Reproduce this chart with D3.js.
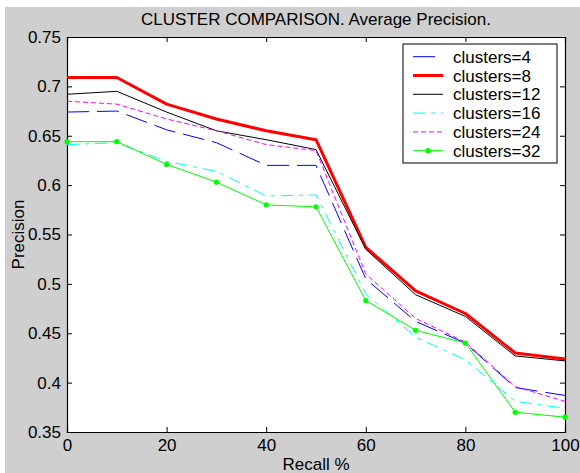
<!DOCTYPE html>
<html>
<head>
<meta charset="utf-8">
<script src="https://cdn.jsdelivr.net/npm/d3@7"></script>
<style>
  html, body { margin: 0; padding: 0; background: #ffffff; }
  svg { display: block; }
  text { font-family: "Liberation Sans", Arial, sans-serif; fill: #000; }
</style>
</head>
<body>
<svg id="chart" width="580" height="473"></svg>
<script>
// Recall levels (%)
const recall = [0, 10, 20, 30, 40, 50, 60, 70, 80, 90, 100];

// Average precision per number of clusters
const clusters4  = [0.674, 0.675, 0.656, 0.643, 0.620, 0.620, 0.505, 0.462, 0.440, 0.395, 0.387];
const clusters8  = [0.709, 0.709, 0.682, 0.667, 0.655, 0.646, 0.537, 0.493, 0.470, 0.430, 0.424];
const clusters12 = [0.692, 0.695, 0.674, 0.655, 0.646, 0.636, 0.535, 0.489, 0.467, 0.427, 0.422];
const clusters16 = [0.641, 0.643, 0.624, 0.614, 0.589, 0.590, 0.490, 0.446, 0.423, 0.381, 0.374];
const clusters24 = [0.685, 0.682, 0.667, 0.655, 0.641, 0.635, 0.510, 0.465, 0.441, 0.396, 0.381];
const clusters32 = [0.644, 0.644, 0.621, 0.603, 0.580, 0.578, 0.483, 0.453, 0.440, 0.370, 0.365];

const seriesNames = ["clusters=4", "clusters=8", "clusters=12", "clusters=16", "clusters=24", "clusters=32"];
const seriesValues = [clusters4, clusters8, clusters12, clusters16, clusters24, clusters32];

const xTicks = [0, 20, 40, 60, 80, 100];
const yTicks = [0.35, 0.4, 0.45, 0.5, 0.55, 0.6, 0.65, 0.7, 0.75];

// Line appearance for each series
const styles = [
  { color: "#0000ff", width: 1, dash: "22,8",      marker: false },
  { color: "#ff0000", width: 3, dash: null,        marker: false },
  { color: "#000000", width: 1, dash: null,        marker: false },
  { color: "#00ffff", width: 1, dash: "12,6,4,6",  marker: false },
  { color: "#ff00ff", width: 1, dash: "5,3",       marker: false },
  { color: "#00ff00", width: 1, dash: null,        marker: true  }
];

const svg = d3.select("#chart");

// Figure background
svg.append("rect").attr("x", 5).attr("y", 7).attr("width", 575).attr("height", 466).attr("fill", "#cfcfcf");

const plot = { left: 67, top: 37, right: 565, bottom: 432 };

const x = d3.scaleLinear().domain([0, 100]).range([plot.left, plot.right]);
const y = d3.scaleLinear().domain([0.35, 0.75]).range([plot.bottom, plot.top]);

// Axes area
svg.append("rect")
  .attr("x", plot.left).attr("y", plot.top)
  .attr("width", plot.right - plot.left).attr("height", plot.bottom - plot.top)
  .attr("fill", "#ffffff");

const fontSize = 17;
const tickLen = 5;

// Bottom axis with inward ticks
const xAxis = d3.axisBottom(x).tickValues(xTicks).tickSize(-tickLen).tickPadding(7).tickFormat(d3.format("d"));
const gx = svg.append("g").attr("transform", `translate(0,${plot.bottom})`).call(xAxis);
// Top axis (ticks only)
const gxt = svg.append("g").attr("transform", `translate(0,${plot.top})`)
  .call(d3.axisTop(x).tickValues(xTicks).tickSize(-tickLen).tickFormat(""));
// Left axis with labels
const yAxis = d3.axisLeft(y).tickValues(yTicks).tickSize(-tickLen).tickPadding(6).tickFormat(d => String(+d.toFixed(2)));
const gy = svg.append("g").attr("transform", `translate(${plot.left},0)`).call(yAxis);
// Right axis (ticks only)
const gyr = svg.append("g").attr("transform", `translate(${plot.right},0)`)
  .call(d3.axisRight(y).tickValues(yTicks).tickSize(-tickLen).tickFormat(""));

[gx, gxt, gy, gyr].forEach(g => {
  g.select(".domain").attr("stroke", "#000").attr("stroke-width", 1.2);
  g.selectAll(".tick line").attr("stroke", "#000");
  g.selectAll(".tick text").attr("font-size", fontSize).attr("font-family", "Liberation Sans, Arial, sans-serif").attr("fill", "#000");
});

// Data lines
const line = d3.line().x((d, i) => x(recall[i])).y(d => y(d));

seriesValues.forEach((vals, k) => {
  const s = styles[k];
  svg.append("path")
    .datum(vals)
    .attr("d", line)
    .attr("fill", "none")
    .attr("stroke", s.color)
    .attr("stroke-width", s.width)
    .attr("stroke-dasharray", s.dash)
    .attr("stroke-linejoin", "round");
  if (s.marker) {
    svg.selectAll(null).data(vals).enter().append("circle")
      .attr("cx", (d, i) => x(recall[i]))
      .attr("cy", d => y(d))
      .attr("r", 2.6)
      .attr("fill", s.color);
  }
});

// Title and axis labels
svg.append("text")
  .attr("x", (plot.left + plot.right) / 2).attr("y", 25)
  .attr("text-anchor", "middle").attr("font-size", fontSize)
  .text("CLUSTER COMPARISON. Average Precision.");

svg.append("text")
  .attr("x", (plot.left + plot.right) / 2).attr("y", 470)
  .attr("text-anchor", "middle").attr("font-size", fontSize)
  .text("Recall %");

svg.append("text")
  .attr("transform", `translate(24,${(plot.top + plot.bottom) / 2}) rotate(-90)`)
  .attr("text-anchor", "middle").attr("font-size", fontSize)
  .text("Precision");

// Legend
const legend = svg.append("g").attr("transform", "translate(403,44)");
legend.append("rect")
  .attr("width", 154).attr("height", 119)
  .attr("fill", "#ffffff").attr("stroke", "#000").attr("stroke-width", 1);

seriesNames.forEach((name, k) => {
  const s = styles[k];
  const cy = 12.7 + k * 18.8;
  legend.append("line")
    .attr("x1", 10).attr("x2", 40).attr("y1", cy).attr("y2", cy)
    .attr("stroke", s.color).attr("stroke-width", s.width)
    .attr("stroke-dasharray", s.dash);
  if (s.marker) {
    legend.append("circle").attr("cx", 25).attr("cy", cy).attr("r", 2.6).attr("fill", s.color);
  }
  legend.append("text")
    .attr("x", 50).attr("y", cy).attr("dy", "0.36em")
    .attr("font-size", fontSize)
    .text(name);
});
</script>
</body>
</html>
